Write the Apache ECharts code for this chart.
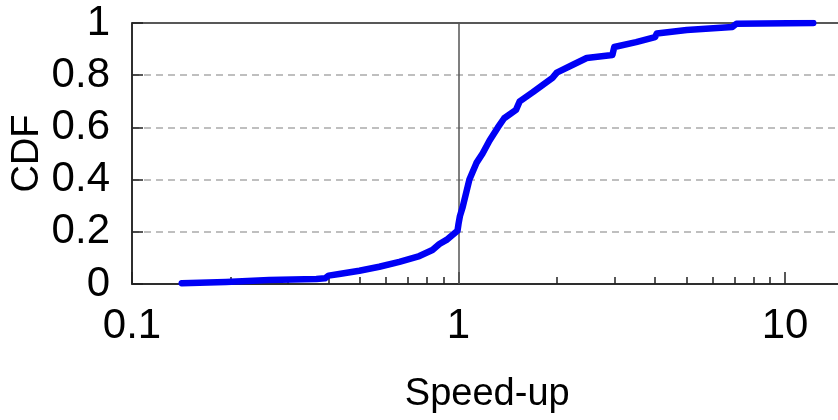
<!DOCTYPE html>
<html>
<head>
<meta charset="utf-8">
<script src="https://cdn.jsdelivr.net/npm/echarts@6/dist/echarts.min.js"></script>
<style>html,body{margin:0;padding:0;background:#fff}#c{width:838px;height:420px}</style>
</head>
<body>
<div id="c"></div>
<script>
// Speed-up values (x) and their CDF (y)
const speedup = [0.142, 0.194, 0.263, 0.367, 0.39, 0.40, 0.431, 0.497, 0.572, 0.659, 0.759, 0.832, 0.874, 0.919, 0.958, 0.993, 1.0, 1.01, 1.03, 1.08, 1.135, 1.185, 1.245, 1.32, 1.38, 1.50, 1.54, 1.69, 1.94, 2.0, 2.24, 2.47, 2.96, 3.0, 3.5, 4.0, 4.05, 5.0, 6.9, 7.1, 12.2];
const cdf = [0.003, 0.008, 0.015, 0.019, 0.022, 0.032, 0.038, 0.051, 0.066, 0.085, 0.107, 0.130, 0.153, 0.169, 0.188, 0.204, 0.23, 0.26, 0.295, 0.40, 0.464, 0.50, 0.55, 0.60, 0.635, 0.667, 0.70, 0.735, 0.79, 0.81, 0.84, 0.866, 0.877, 0.908, 0.927, 0.946, 0.96, 0.973, 0.985, 0.997, 1.0];
const xMajorTicks = [0.1, 1, 10];
const xMinorTicks = [0.2, 0.3, 0.4, 0.5, 0.6, 0.7, 0.8, 0.9, 2, 3, 4, 5, 6, 7, 8, 9];
const refLineX = 1;

const FONT = '"Liberation Sans", Arial, sans-serif';
const chart = echarts.init(document.getElementById('c'));
const logBase = {type: 'log', logBase: 10, min: 0.1, max: 15, gridIndex: 0};
chart.setOption({
  animation: false,
  grid: {left: 132, top: 23, right: -4.5, bottom: 136, containLabel: false, outerBoundsMode: 'none',
    show: true, borderColor: '#222', borderWidth: 1.5, backgroundColor: 'transparent'},
  xAxis: [
    Object.assign({}, logBase, {
      position: 'bottom',
      name: 'Speed-up', nameLocation: 'middle', nameGap: 92, nameMoveOverlap: false,
      nameTextStyle: {fontFamily: FONT, fontSize: 38, color: '#000'},
      axisLine: {show: true, lineStyle: {color: '#222', width: 1.5}},
      axisTick: {show: true, inside: true, length: 12, customValues: xMajorTicks, lineStyle: {color: '#222', width: 1.5}},
      axisLabel: {show: true, customValues: xMajorTicks, margin: 21, fontFamily: FONT, fontSize: 42, color: '#000',
        formatter: v => String(v)},
      splitLine: {show: false}, minorTick: {show: false}
    }),
    Object.assign({}, logBase, {
      position: 'bottom',
      axisLine: {show: false},
      axisTick: {show: true, inside: true, length: 7, customValues: xMinorTicks, lineStyle: {color: '#222', width: 1.5}},
      axisLabel: {show: false},
      splitLine: {show: false}
    })
  ],
  yAxis: {
    type: 'value', min: 0, max: 1, interval: 0.2,
    name: 'CDF', nameLocation: 'middle', nameGap: 85, nameRotate: 90, nameMoveOverlap: false,
    nameTextStyle: {fontFamily: FONT, fontSize: 38, color: '#000'},
    axisLine: {show: true, lineStyle: {color: '#222', width: 1.5}},
    axisTick: {show: true, inside: true, length: 11, lineStyle: {color: '#222', width: 1.5}},
    axisLabel: {margin: 22, fontFamily: FONT, fontSize: 42, color: '#000'},
    splitLine: {show: true, showMinLine: false, showMaxLine: false, lineStyle: {color: '#aaa', width: 1.5, type: [7, 5]}}
  },
  series: [{
    type: 'line', xAxisIndex: 0, yAxisIndex: 0,
    data: speedup.map((x, i) => [x, cdf[i]]),
    showSymbol: false, symbol: 'none', smooth: false,
    lineStyle: {color: '#0000f5', width: 6.5, join: 'round', cap: 'round'},
    z: 3,
    markLine: {
      silent: true, symbol: 'none', label: {show: false},
      lineStyle: {color: '#555', width: 1.5, type: 'solid'},
      data: [{xAxis: refLineX}],
      z: 2
    }
  }]
});
</script>
</body>
</html>
